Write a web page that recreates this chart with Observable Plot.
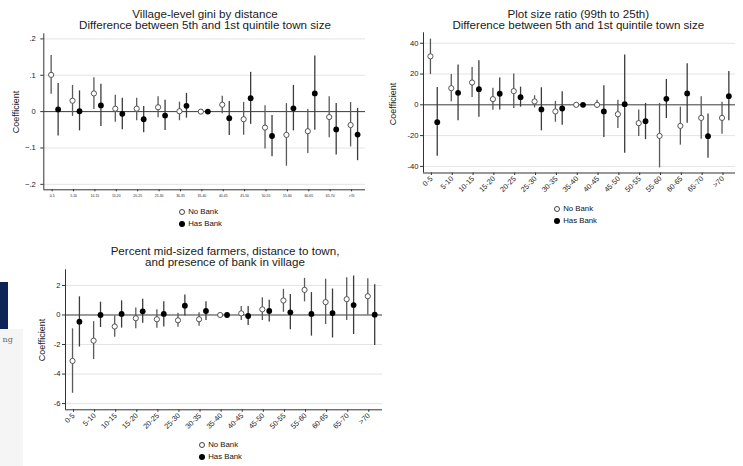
<!DOCTYPE html>
<html>
<head>
<meta charset="utf-8">
<script src="https://cdn.jsdelivr.net/npm/d3@7"></script>
<script src="https://cdn.jsdelivr.net/npm/@observablehq/plot@0.6"></script>
<style>
  body { margin: 0; background: white; }
  #root { position: relative; width: 743px; height: 466px; overflow: hidden; background: white; font-family: "Liberation Sans", Arial, sans-serif; color: #1a1a1a; }
  #root svg { position: absolute; left: 0; top: 0; }
  .t { position: absolute; white-space: nowrap; transform: translate(-50%, -50%); line-height: 1; }
  .ttl { font-size: 11.6px; line-height: 0.95; }
  .ylab { font-size: 9px; transform: translate(-50%, -50%) rotate(-90deg); }
  .leg { position: absolute; font-size: 7.8px; line-height: 1; white-space: nowrap; transform: translateY(-50%); color: #111; }
  .sym { position: absolute; border-radius: 50%; box-sizing: border-box; transform: translate(-50%, -50%); }
</style>
</head>
<body>
<div id="root"></div>
<script>
const categories = ["0-5","5-10","10-15","15-20","20-25","25-30","30-35","35-40","40-45","45-50","50-55","55-60","60-65","65-70",">70"];

// Panel 1: Village-level gini
const giniNoBankEst = [0.101, 0.030, 0.050, 0.008, 0.008, 0.012, 0.001, 0, 0.019, -0.021, -0.044, -0.064, -0.054, -0.015, -0.037];
const giniNoBankLo  = [0.048, -0.013, 0.006, -0.029, -0.025, -0.017, -0.025, 0, -0.006, -0.065, -0.103, -0.150, -0.115, -0.072, -0.097];
const giniNoBankHi  = [0.154, 0.072, 0.093, 0.045, 0.037, 0.041, 0.026, 0, 0.042, 0.025, 0.016, 0.022, 0.006, 0.041, 0.025];
const giniHasBankEst = [0.006, 0.001, 0.017, -0.006, -0.021, -0.011, 0.016, 0, -0.018, 0.037, -0.067, 0.009, 0.050, -0.049, -0.063];
const giniHasBankLo  = [-0.067, -0.053, -0.041, -0.050, -0.058, -0.052, -0.018, 0, -0.066, -0.035, -0.124, -0.053, -0.051, -0.119, -0.135];
const giniHasBankHi  = [0.077, 0.057, 0.075, 0.037, 0.014, 0.031, 0.050, 0, 0.028, 0.108, -0.011, 0.072, 0.153, 0.022, 0.009];
const giniTicks = [-0.2, -0.1, 0, 0.1, 0.2];

// Panel 2: Plot size ratio
const plotNoBankEst = [31.5, 10.8, 14.5, 3.7, 8.9, 2.2, -4.3, 0, 0, -6.1, -11.9, -20.2, -13.7, -8.5, -8.5];
const plotNoBankLo  = [19.7, 2.0, 4.8, -3.5, -2.4, -2.0, -11.3, 0, -2.4, -15.4, -20.6, -41.0, -26.2, -22.3, -19.1];
const plotNoBankHi  = [42.7, 19.7, 24.3, 10.8, 20.0, 5.9, 2.2, 0, 3.0, 3.0, -3.3, 0.9, -1.5, 5.2, 1.7];
const plotHasBankEst = [-11.3, 7.8, 10.2, 7.2, 5.0, -3.0, -2.4, 0, -4.3, 0.4, -10.6, 3.9, 7.4, -20.4, 5.6];
const plotHasBankLo  = [-33.4, -10.4, -8.0, -3.3, -1.5, -16.9, -13.2, 0, -21.3, -31.5, -22.6, -8.9, -11.9, -34.7, -10.4];
const plotHasBankHi  = [11.3, 25.8, 28.6, 17.4, 11.5, 11.1, 8.5, 0, 12.4, 32.3, 0.9, 16.5, 26.7, -5.9, 21.7];
const plotTicks = [-40, -20, 0, 20, 40];

// Panel 3: Percent mid-sized farmers
const midNoBankEst = [-3.11, -1.74, -0.78, -0.22, -0.29, -0.36, -0.29, 0, 0.11, 0.38, 0.98, 1.70, 0.87, 1.07, 1.27];
const midNoBankLo  = [-5.30, -3.02, -1.50, -0.94, -0.89, -0.83, -0.76, 0, -0.38, -0.38, 0.18, 0.89, -0.65, -0.38, 0.0];
const midNoBankHi  = [-0.94, -0.45, -0.07, 0.47, 0.36, 0.11, 0.16, 0, 0.58, 1.16, 1.74, 2.48, 2.42, 2.52, 2.46];
const midHasBankEst = [-0.45, 0.0, 0.07, 0.25, 0.07, 0.63, 0.27, 0, -0.07, 0.27, 0.18, 0.07, 0.13, 0.67, 0.02];
const midHasBankLo  = [-2.17, -0.85, -0.89, -0.56, -0.81, -0.07, -0.38, 0, -0.72, -0.47, -1.0, -1.43, -1.56, -1.32, -2.06];
const midHasBankHi  = [1.23, 0.87, 0.96, 1.07, 0.89, 1.36, 0.9, 0, 0.58, 1.0, 1.38, 1.52, 1.76, 2.64, 2.04];
const midTicks = [-6, -4, -2, 0, 2];

const seriesNames = ["No Bank", "Has Bank"];

const W = 743, H = 466;
const root = document.getElementById("root");

function rows(est, lo, hi, off) {
  return categories.map((c, i) => ({cat: c, x: i + off, est: est[i], lo: lo[i], hi: hi[i]}));
}

function panel(p) {
  const nb = rows(p.nb[0], p.nb[1], p.nb[2], -0.047);
  const hb = rows(p.hb[0], p.hb[1], p.hb[2], 0.28);
  const grid = p.yticks.filter(d => d !== 0);
  return Plot.plot({
    width: W, height: H,
    marginLeft: p.L, marginRight: W - p.R, marginTop: p.T, marginBottom: H - p.B,
    style: {background: "transparent", fontFamily: "Liberation Sans, Arial, sans-serif", color: "#222", overflow: "visible"},
    x: {type: "linear", domain: p.xdom},
    y: {type: "linear", domain: p.ydom},
    marks: [
      Plot.ruleY(grid, {stroke: "#e4e4e4", strokeWidth: 1}),
      Plot.ruleY([0], {stroke: "#3a3a3a", strokeWidth: 1}),
      Plot.ruleX([p.xdom[0]], {stroke: "#333", strokeWidth: 1}),
      Plot.ruleY([p.ydom[0]], {stroke: "#333", strokeWidth: 1}),
      Plot.axisY({ticks: p.yticks, tickFormat: p.yfmt, tickSize: 3, tickPadding: p.ypad, fontSize: 7.6, label: null, stroke: "#333"}),
      p.rotate
        ? Plot.axisX({ticks: d3.range(categories.length), tickFormat: i => categories[i], tickSize: 2.5, tickPadding: 2, tickRotate: -45, textAnchor: "end", fontSize: 7.4, label: null, stroke: "#333"})
        : Plot.axisX({ticks: d3.range(categories.length), tickFormat: i => categories[i], tickSize: 2, tickPadding: 3, fontSize: 3.4, label: null, stroke: "#333"}),
      Plot.ruleX(nb, {x: "x", y1: "lo", y2: "hi", stroke: "#5a5a5a", strokeWidth: 1.3}),
      Plot.ruleX(hb, {x: "x", y1: "lo", y2: "hi", stroke: "#3c3c3c", strokeWidth: 1.3}),
      Plot.dot(nb, {x: "x", y: "est", r: 2.6, fill: "white", stroke: "#444", strokeWidth: 0.9}),
      Plot.dot(hb, {x: "x", y: "est", r: 2.9, fill: "black", stroke: "none"})
    ]
  });
}

const giniFmt = d => d === 0 ? "0" : d3.format(".1f")(d).replace("0.", ".");

root.append(panel({
  L: 43.3, R: 365, T: 33.3, B: 189.3, xdom: [-0.39, 14.65], ydom: [-0.215, 0.214],
  yticks: giniTicks, yfmt: giniFmt, ypad: 5, rotate: false,
  nb: [giniNoBankEst, giniNoBankLo, giniNoBankHi], hb: [giniHasBankEst, giniHasBankLo, giniHasBankHi]
}));
root.append(panel({
  L: 423, R: 735, T: 32.3, B: 172.5, xdom: [-0.38, 14.6], ydom: [-44.3, 46.8],
  yticks: plotTicks, yfmt: d => String(d), ypad: 2, rotate: true,
  nb: [plotNoBankEst, plotNoBankLo, plotNoBankHi], hb: [plotHasBankEst, plotHasBankLo, plotHasBankHi]
}));
root.append(panel({
  L: 65, R: 382, T: 269.3, B: 409.3, xdom: [-0.38, 14.65], ydom: [-6.42, 3.06],
  yticks: midTicks, yfmt: d => String(d), ypad: 2, rotate: true,
  nb: [midNoBankEst, midNoBankLo, midNoBankHi], hb: [midHasBankEst, midHasBankLo, midHasBankHi]
}));

function addText(cls, txt, x, y) {
  const d = document.createElement("div");
  d.className = cls;
  d.textContent = txt;
  d.style.left = x + "px";
  d.style.top = y + "px";
  root.append(d);
  return d;
}
function addLegend(cx, y1, y2) {
  const s1 = document.createElement("div");
  s1.className = "sym";
  Object.assign(s1.style, {left: cx + "px", top: y1 + "px", width: "6px", height: "6px", border: "1px solid #444", background: "white"});
  root.append(s1);
  const s2 = document.createElement("div");
  s2.className = "sym";
  Object.assign(s2.style, {left: cx + "px", top: y2 + "px", width: "6px", height: "6px", background: "black"});
  root.append(s2);
  addText("leg", seriesNames[0], cx + 6.5, y1);
  addText("leg", seriesNames[1], cx + 6.5, y2);
}

// Panel 1 texts
addText("t ttl", "Village-level gini by distance", 205, 12.5);
addText("t ttl", "Difference between 5th and 1st quintile town size", 205, 24.3);
addText("t ylab", "Coefficient", 15.7, 112);
addLegend(181.7, 211.7, 224);

// Panel 2 texts
addText("t ttl", "Plot size ratio (99th to 25th)", 578.3, 12.5);
addText("t ttl", "Difference between 5th and 1st quintile town size", 578.3, 24.3);
addText("t ylab", "Coefficient", 393, 104);
addLegend(556.7, 209, 220.7);

// Panel 3 texts
addText("t ttl", "Percent mid-sized farmers, distance to town,", 225, 249.5);
addText("t ttl", "and presence of bank in village", 225, 261);
addText("t ylab", "Coefficient", 41.7, 340);
addLegend(201.7, 445, 456.7);

// Left-edge fragments of a neighbouring page
const navy = document.createElement("div");
Object.assign(navy.style, {position: "absolute", left: "0px", top: "282px", width: "7.5px", height: "47px", background: "#0d2457"});
root.append(navy);
const grayBox = document.createElement("div");
Object.assign(grayBox.style, {position: "absolute", left: "0px", top: "329px", width: "22.5px", height: "137px", background: "#f5f5f5"});
root.append(grayBox);
const frag = document.createElement("div");
Object.assign(frag.style, {position: "absolute", left: "2.5px", top: "336px", fontSize: "8px", lineHeight: "1", fontFamily: "DejaVu Serif, serif", color: "#666"});
frag.textContent = "ng";
root.append(frag);
</script>
</body>
</html>
